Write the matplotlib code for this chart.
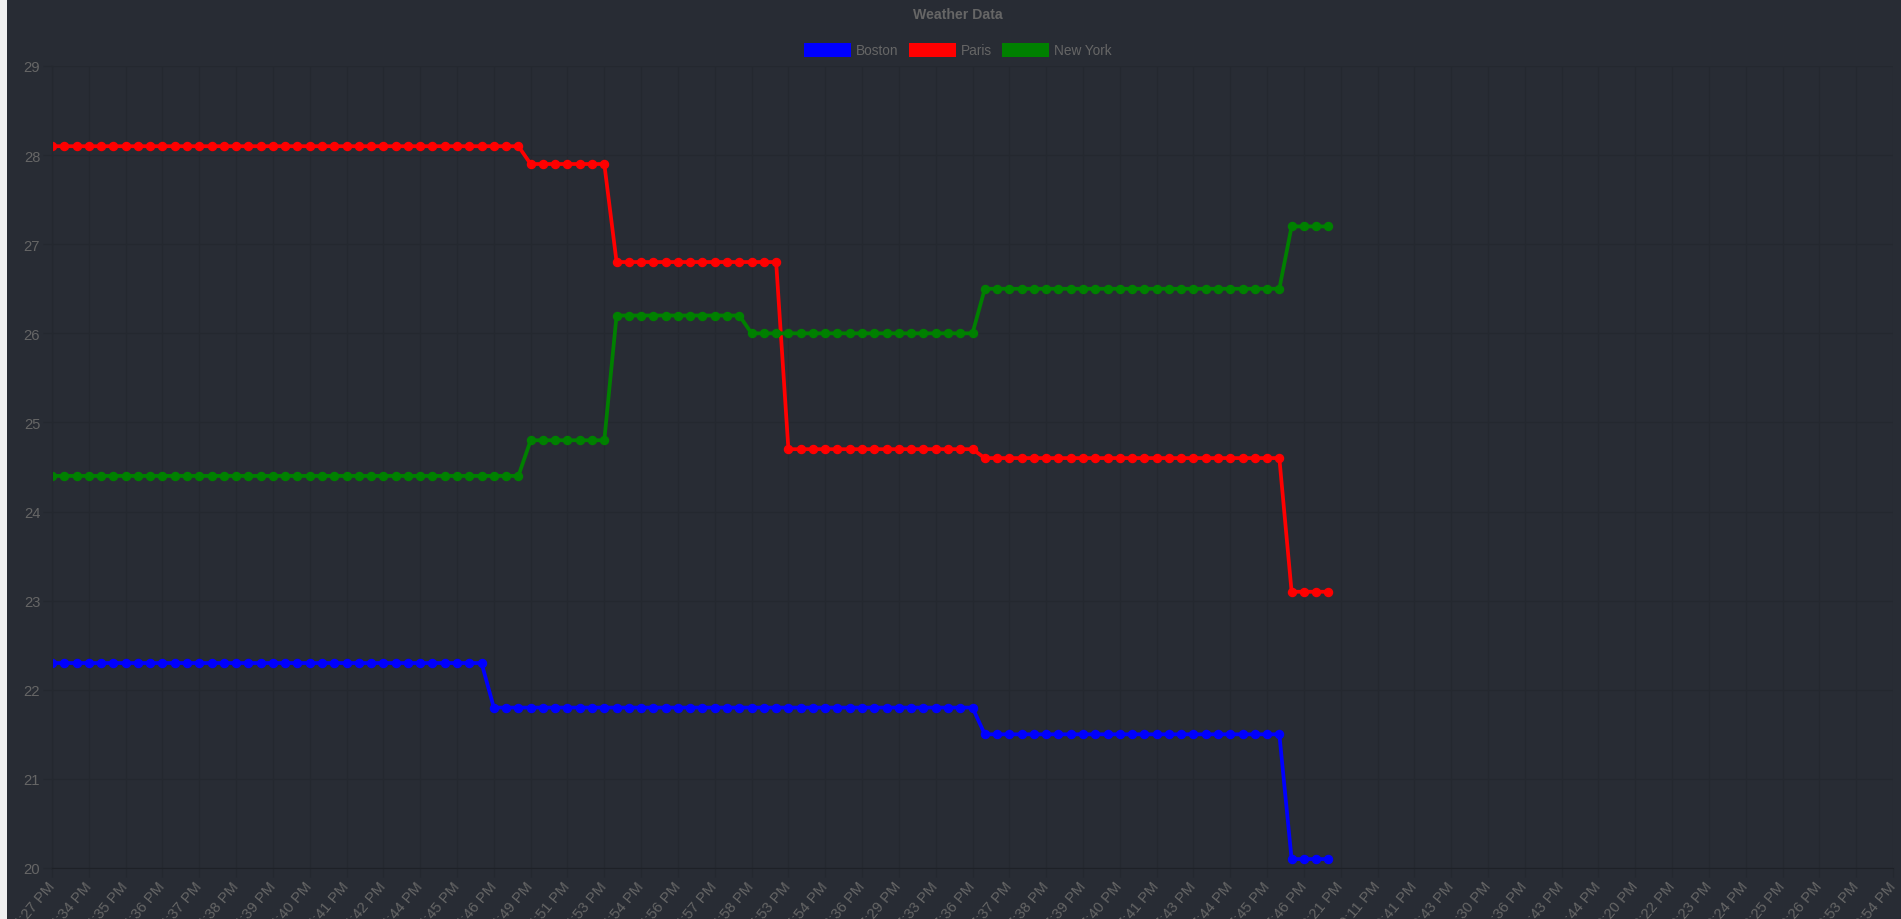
import matplotlib
matplotlib.use('Agg')
import matplotlib.pyplot as plt
from matplotlib.patches import Patch, Rectangle

# temperatures, one value per reading
boston = [
    22.3, 22.3, 22.3, 22.3, 22.3, 22.3, 22.3, 22.3, 22.3, 22.3, 22.3, 22.3, 22.3, 22.3, 22.3,
    22.3, 22.3, 22.3, 22.3, 22.3, 22.3, 22.3, 22.3, 22.3, 22.3, 22.3, 22.3, 22.3, 22.3, 22.3,
    22.3, 22.3, 22.3, 22.3, 22.3, 22.3, 21.8, 21.8, 21.8, 21.8, 21.8, 21.8, 21.8, 21.8, 21.8,
    21.8, 21.8, 21.8, 21.8, 21.8, 21.8, 21.8, 21.8, 21.8, 21.8, 21.8, 21.8, 21.8, 21.8, 21.8,
    21.8, 21.8, 21.8, 21.8, 21.8, 21.8, 21.8, 21.8, 21.8, 21.8, 21.8, 21.8, 21.8, 21.8, 21.8,
    21.8, 21.5, 21.5, 21.5, 21.5, 21.5, 21.5, 21.5, 21.5, 21.5, 21.5, 21.5, 21.5, 21.5, 21.5,
    21.5, 21.5, 21.5, 21.5, 21.5, 21.5, 21.5, 21.5, 21.5, 21.5, 21.5, 20.1, 20.1, 20.1, 20.1,
]
paris = [
    28.1, 28.1, 28.1, 28.1, 28.1, 28.1, 28.1, 28.1, 28.1, 28.1, 28.1, 28.1, 28.1, 28.1, 28.1,
    28.1, 28.1, 28.1, 28.1, 28.1, 28.1, 28.1, 28.1, 28.1, 28.1, 28.1, 28.1, 28.1, 28.1, 28.1,
    28.1, 28.1, 28.1, 28.1, 28.1, 28.1, 28.1, 28.1, 28.1, 27.9, 27.9, 27.9, 27.9, 27.9, 27.9,
    27.9, 26.8, 26.8, 26.8, 26.8, 26.8, 26.8, 26.8, 26.8, 26.8, 26.8, 26.8, 26.8, 26.8, 26.8,
    24.7, 24.7, 24.7, 24.7, 24.7, 24.7, 24.7, 24.7, 24.7, 24.7, 24.7, 24.7, 24.7, 24.7, 24.7,
    24.7, 24.6, 24.6, 24.6, 24.6, 24.6, 24.6, 24.6, 24.6, 24.6, 24.6, 24.6, 24.6, 24.6, 24.6,
    24.6, 24.6, 24.6, 24.6, 24.6, 24.6, 24.6, 24.6, 24.6, 24.6, 24.6, 23.1, 23.1, 23.1, 23.1,
]
newYork = [
    24.4, 24.4, 24.4, 24.4, 24.4, 24.4, 24.4, 24.4, 24.4, 24.4, 24.4, 24.4, 24.4, 24.4, 24.4,
    24.4, 24.4, 24.4, 24.4, 24.4, 24.4, 24.4, 24.4, 24.4, 24.4, 24.4, 24.4, 24.4, 24.4, 24.4,
    24.4, 24.4, 24.4, 24.4, 24.4, 24.4, 24.4, 24.4, 24.4, 24.8, 24.8, 24.8, 24.8, 24.8, 24.8,
    24.8, 26.2, 26.2, 26.2, 26.2, 26.2, 26.2, 26.2, 26.2, 26.2, 26.2, 26.2, 26.0, 26.0, 26.0,
    26.0, 26.0, 26.0, 26.0, 26.0, 26.0, 26.0, 26.0, 26.0, 26.0, 26.0, 26.0, 26.0, 26.0, 26.0,
    26.0, 26.5, 26.5, 26.5, 26.5, 26.5, 26.5, 26.5, 26.5, 26.5, 26.5, 26.5, 26.5, 26.5, 26.5,
    26.5, 26.5, 26.5, 26.5, 26.5, 26.5, 26.5, 26.5, 26.5, 26.5, 26.5, 27.2, 27.2, 27.2, 27.2,
]

seriesNames = ['Boston', 'Paris', 'New York']
seriesColors = ['#0000ff', '#ff0000', '#008000']

# only every third time label is shown on the axis
tickLabels = [
    '4:27 PM', '4:34 PM', '4:35 PM', '4:36 PM', '4:37 PM', '4:38 PM', '4:39 PM', '4:40 PM',
    '4:41 PM', '4:42 PM', '4:44 PM', '4:45 PM', '4:46 PM', '4:49 PM', '4:51 PM', '4:53 PM',
    '4:54 PM', '4:56 PM', '4:57 PM', '4:58 PM', '5:53 PM', '5:54 PM', '6:36 PM', '7:29 PM',
    '7:33 PM', '7:36 PM', '7:37 PM', '7:38 PM', '7:39 PM', '7:40 PM', '7:41 PM', '7:43 PM',
    '7:44 PM', '7:45 PM', '7:46 PM', '8:21 PM', '9:11 PM', '9:41 PM', '9:43 PM', '1:30 PM',
    '1:36 PM', '1:43 PM', '1:44 PM', '2:20 PM', '2:22 PM', '2:23 PM', '2:24 PM', '2:25 PM',
    '2:26 PM', '2:53 PM', '2:54 PM',
]
labelStep = 3
yTicks = [20, 21, 22, 23, 24, 25, 26, 27, 28, 29]

BG = '#282c34'
GRID = '#24282f'
BORDER = '#1e2127'
TEXT = '#666666'

plt.rcParams['font.family'] = ['Liberation Sans', 'DejaVu Sans']

fig = plt.figure(figsize=(19.01, 9.20), dpi=100, facecolor=BG)
ax = fig.add_axes([52 / 1901, 1 - 869 / 920, (1893 - 52) / 1901, (869 - 67) / 920])
ax.set_facecolor(BG)

for name, values, color in zip(seriesNames, [boston, paris, newYork], seriesColors):
    ax.plot(range(len(values)), values, color=color, lw=2.7, marker='o', ms=5.8,
            mfc=color, mec=color, label=name, solid_joinstyle='round')

nCategories = labelStep * (len(tickLabels) - 1) + 1
ax.set_xlim(0, nCategories - 1)
ax.set_ylim(yTicks[0], yTicks[-1])
ax.set_xticks(range(0, nCategories, labelStep))
ax.set_xticklabels(tickLabels, rotation=50, ha='right', va='center', rotation_mode='anchor')
ax.set_yticks(yTicks)

ax.tick_params(axis='both', colors=GRID, labelcolor=TEXT, labelsize=10.6, length=6.5, width=1)
ax.tick_params(axis='x', pad=4.5)
ax.tick_params(axis='y', pad=2)
ax.grid(True, color=GRID, lw=1)
ax.set_axisbelow(True)
for side in ['top', 'right']:
    ax.spines[side].set_visible(False)
ax.spines['left'].set_color(GRID)
ax.spines['bottom'].set_color(BORDER)

fig.text(958 / 1901, 1 - 15 / 920, 'Weather Data', ha='center', va='center',
         fontsize=10.2, fontweight='bold', color=TEXT)

handles = [Patch(facecolor=c, edgecolor='none') for c in seriesColors]
leg = fig.legend(handles, seriesNames, loc='center', bbox_to_anchor=(958 / 1901, 1 - 51 / 920),
                 ncol=3, frameon=False, fontsize=9.8, handlelength=3.45, handleheight=1.18,
                 handletextpad=0.37, columnspacing=0.74, borderpad=0)
for t in leg.get_texts():
    t.set_color(TEXT)

# light strip on the left edge of the page
fig.patches.append(Rectangle((0, 0), 7 / 1901, 1, transform=fig.transFigure,
                             facecolor='#f0f0f0', edgecolor='none'))

fig.savefig('out.png', dpi=100, facecolor=BG)
